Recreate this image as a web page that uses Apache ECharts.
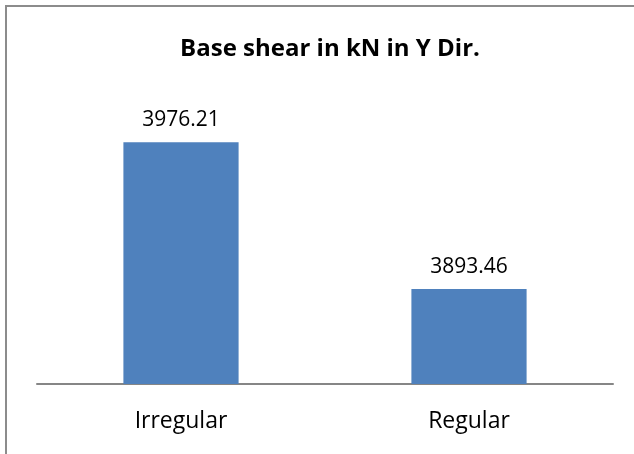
<!DOCTYPE html>
<html>
<head>
<meta charset="utf-8">
<script src="https://cdn.jsdelivr.net/npm/echarts@6/dist/echarts.min.js"></script>
<style>
  html, body { margin: 0; padding: 0; background: #fff; }
  #chart { width: 634px; height: 454px; }
</style>
</head>
<body>
<div id="chart"></div>
<script>
// data
const categories = ['Irregular', 'Regular'];
const baseShear = [3976.21, 3893.46];

const chart = echarts.init(document.getElementById('chart'));
chart.setOption({
    animation: false,
    textStyle: { fontFamily: 'Open Sans' },
    graphic: [{
        type: 'rect',
        shape: { x: 6, y: 6, width: 700, height: 500 },
        style: { fill: 'none', stroke: '#8c8c8c', lineWidth: 2 }
    }],
    title: {
        text: 'Base shear in kN in Y Dir.',
        left: 325,
        top: 32,
        textAlign: 'center',
        textStyle: { fontFamily: 'Open Sans', fontWeight: 'bold', fontSize: 24, color: '#000' }
    },
    grid: { left: 37, right: 21, top: 100, bottom: 70 },
    xAxis: {
        type: 'category',
        data: categories,
        axisLine: { lineStyle: { color: '#868686', width: 2 } },
        axisTick: { show: false },
        axisLabel: { color: '#000', fontSize: 23, margin: 26 }
    },
    yAxis: {
        type: 'value',
        min: 3840,
        max: 4000,
        show: false
    },
    series: [{
        type: 'bar',
        data: baseShear,
        barWidth: '40%',
        itemStyle: { color: '#4F81BD' },
        label: {
            show: true,
            position: 'top',
            distance: 12,
            color: '#000',
            fontSize: 21,
            formatter: p => p.value.toFixed(2)
        }
    }]
});
</script>
</body>
</html>
